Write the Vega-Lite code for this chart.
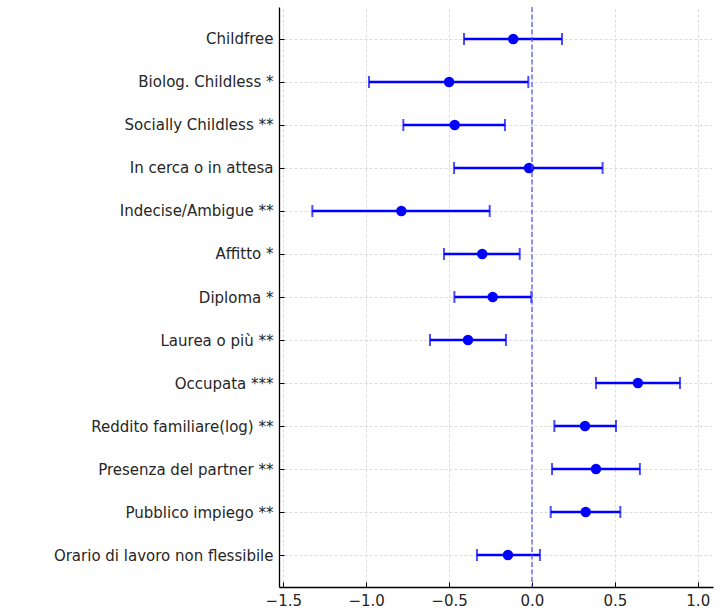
{
  "$schema": "https://vega.github.io/schema/vega-lite/v6.json",
  "width": 434,
  "height": 580,
  "autosize": {"type": "none"},
  "padding": {"left": 279, "top": 7, "right": 7, "bottom": 22},
  "background": "white",
  "config": {
    "view": {"stroke": null},
    "font": "DejaVu Sans",
    "axis": {
      "labelFont": "DejaVu Sans",
      "labelFontSize": 15,
      "labelLimit": 0,
      "labelColor": "#262626",
      "domainColor": "#000000",
      "domainWidth": 1.3,
      "tickColor": "#000000",
      "tickWidth": 1,
      "gridColor": "#d3d3d3",
      "gridDash": [3, 2],
      "gridWidth": 0.8,
      "title": null
    }
  },
  "data": {
    "values": [
      {"label": "Childfree\u00a0", "coef": -0.113, "lo": -0.41, "hi": 0.181},
      {"label": "Biolog. Childless *", "coef": -0.5, "lo": -0.983, "hi": -0.022},
      {"label": "Socially Childless **", "coef": -0.466, "lo": -0.776, "hi": -0.163},
      {"label": "In cerca o in attesa\u00a0", "coef": -0.018, "lo": -0.47, "hi": 0.426},
      {"label": "Indecise/Ambigue **", "coef": -0.788, "lo": -1.325, "hi": -0.255},
      {"label": "Affitto *", "coef": -0.3, "lo": -0.531, "hi": -0.074},
      {"label": "Diploma *", "coef": -0.237, "lo": -0.468, "hi": -0.004},
      {"label": "Laurea o più **", "coef": -0.386, "lo": -0.615, "hi": -0.157},
      {"label": "Occupata ***", "coef": 0.639, "lo": 0.386, "hi": 0.893},
      {"label": "Reddito familiare(log) **", "coef": 0.32, "lo": 0.135, "hi": 0.507},
      {"label": "Presenza del partner **", "coef": 0.386, "lo": 0.121, "hi": 0.651},
      {"label": "Pubblico impiego **", "coef": 0.324, "lo": 0.113, "hi": 0.533},
      {"label": "Orario di lavoro non flessibile\u00a0", "coef": -0.145, "lo": -0.332, "hi": 0.048}
    ]
  },
  "encoding": {
    "y": {
      "field": "label",
      "type": "nominal",
      "sort": null,
      "scale": {"type": "point", "padding": 0.744},
      "axis": {"grid": true, "tickSize": -5, "labelPadding": 11, "domain": true}
    }
  },
  "layer": [
    {
      "mark": {"type": "rule", "color": "#0000ff", "strokeWidth": 2.5},
      "encoding": {
        "x": {
          "field": "lo",
          "type": "quantitative",
          "scale": {"domain": [-1.526, 1.092], "nice": false, "zero": false},
          "axis": {"values": [-1.5, -1, -0.5, 0, 0.5, 1], "format": ".1f", "grid": true, "tickSize": -5, "labelPadding": 11}
        },
        "x2": {"field": "hi"}
      }
    },
    {
      "mark": {"type": "tick", "color": "#0000ff", "thickness": 2, "size": 12, "orient": "vertical"},
      "encoding": {"x": {"field": "lo", "type": "quantitative"}}
    },
    {
      "mark": {"type": "tick", "color": "#0000ff", "thickness": 2, "size": 12, "orient": "vertical"},
      "encoding": {"x": {"field": "hi", "type": "quantitative"}}
    },
    {
      "mark": {"type": "circle", "color": "#0000ff", "opacity": 1, "size": 110},
      "encoding": {"x": {"field": "coef", "type": "quantitative"}}
    },
    {
      "data": {"values": [{"zero": 0}]},
      "mark": {"type": "rule", "color": "#4d4dff", "strokeWidth": 1.2, "strokeDash": [5, 2.5]},
      "encoding": {"x": {"field": "zero", "type": "quantitative"}, "y": null}
    }
  ]
}
